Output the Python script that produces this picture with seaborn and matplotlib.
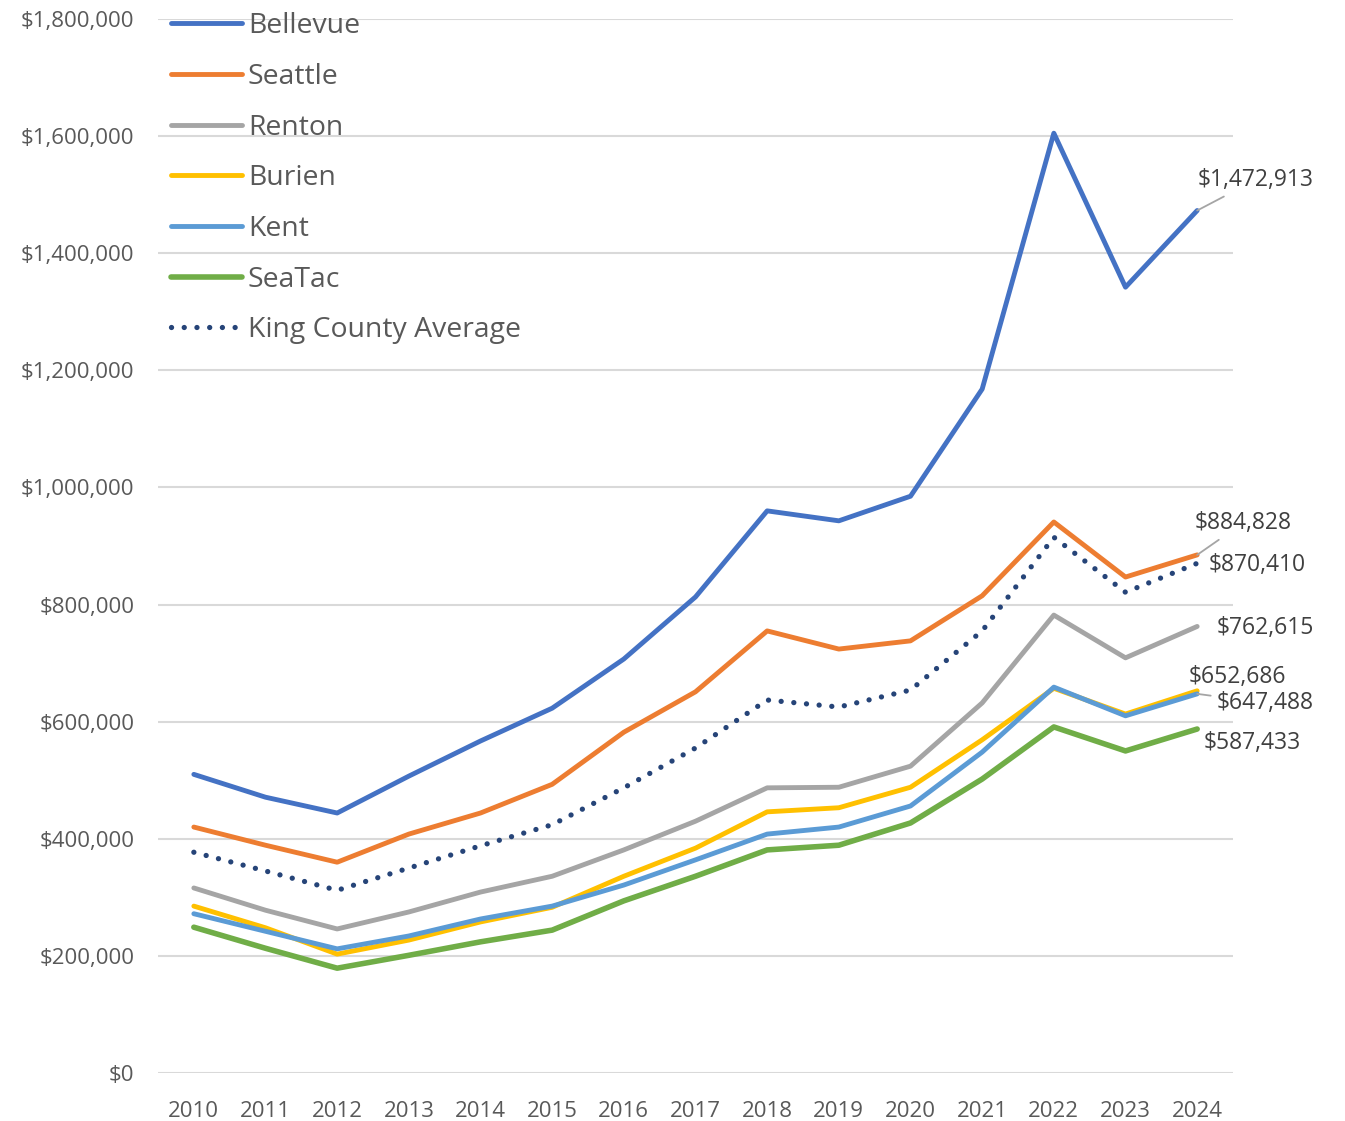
import pandas as pd
import matplotlib.pyplot as plt
import seaborn as sns
from matplotlib.ticker import FuncFormatter

# median home values by city
years = list(range(2010, 2025))
bellevue = [510000, 471000, 444000, 507000, 567000, 623000, 707000, 813000, 960000, 943000, 985000, 1168000, 1605000, 1342000, 1472913]
seattle = [420000, 389000, 360000, 408000, 444000, 493000, 582000, 651000, 755000, 724000, 738000, 815000, 941000, 847000, 884828]
renton = [316000, 278000, 246000, 275000, 309000, 336000, 381000, 430000, 487000, 488000, 524000, 632000, 782000, 709000, 762615]
burien = [285000, 248000, 203000, 227000, 258000, 283000, 336000, 384000, 446000, 453000, 488000, 569000, 657000, 613000, 652686]
kent = [272000, 242000, 212000, 234000, 263000, 285000, 321000, 364000, 408000, 420000, 456000, 548000, 659000, 610000, 647488]
seatac = [249000, 213000, 179000, 201000, 224000, 244000, 294000, 336000, 381000, 389000, 427000, 502000, 591000, 550000, 587433]
king_avg = [377000, 345000, 312000, 350000, 388000, 424000, 487000, 555000, 637000, 625000, 654000, 755000, 915000, 821000, 870410]

names = ["Bellevue", "Seattle", "Renton", "Burien", "Kent", "SeaTac", "King County Average"]
series = [bellevue, seattle, renton, burien, kent, seatac, king_avg]
colors = ["#4472C4", "#ED7D31", "#A5A5A5", "#FFC000", "#5B9BD5", "#70AD47", "#264478"]

df = pd.DataFrame({"Year": years})
for n, s in zip(names, series):
    df[n] = s

sns.set_style("white")
plt.rcParams['font.family'] = ['Open Sans', 'DejaVu Sans']

fig = plt.figure(figsize=(13.45, 11.21), dpi=100)
ax = fig.add_axes([158 / 1345, 1 - 1073 / 1121, (1233 - 158) / 1345, (1073 - 19) / 1121])

for n, c in zip(names, colors):
    if n == "King County Average":
        sns.lineplot(data=df, x="Year", y=n, ax=ax, color=c, linewidth=3.8,
                     linestyle=(0, (0.01, 2.4)), dash_capstyle="round", label=n)
    else:
        lw = 4.0 if n == "SeaTac" else 3.5
        sns.lineplot(data=df, x="Year", y=n, ax=ax, color=c, linewidth=lw,
                     solid_capstyle="round", label=n)

ax.set_xlim(2009.5, 2024.5)
ax.set_ylim(0, 1800000)
ax.set_yticks(range(0, 1800001, 200000))
ax.set_xticks(years)
ax.yaxis.set_major_formatter(FuncFormatter(lambda v, p: f"${v:,.0f}"))
ax.grid(axis="y", color="#D9D9D9", linewidth=1.5)
ax.set_axisbelow(True)
for sp in ax.spines.values():
    sp.set_visible(False)
ax.tick_params(axis="both", length=0, labelsize=16, labelcolor="#595959")
ax.tick_params(axis="x", pad=20)
ax.tick_params(axis="y", pad=17)
ax.set_xlabel("")
ax.set_ylabel("")

# end-of-line value labels (offsets in points)
offsets = {
    "Bellevue": (42, 22, True),
    "Seattle": (33, 23, True),
    "King County Average": (43, -1, False),
    "Renton": (49, -1, False),
    "Burien": (29, 10, False),
    "Kent": (49, -6.5, True),
    "SeaTac": (40, -10, False),
}
for n, s in zip(names, series):
    dx, dy, leader = offsets[n]
    props = dict(arrowstyle="-", color="#A5A5A5", lw=1.3, shrinkA=2, shrinkB=0) if leader else None
    ax.annotate(f"${s[-1]:,.0f}", xy=(years[-1], s[-1]), xytext=(dx, dy),
                textcoords="offset points", ha="center", va="center",
                fontsize=16.5, color="#404040", arrowprops=props, annotation_clip=False)

leg = ax.legend(loc="upper left", bbox_to_anchor=(0.002, 1.017), frameon=False,
                fontsize=20.4, labelcolor="#595959", handlelength=2.5,
                handletextpad=0.2, labelspacing=0.8, borderaxespad=0)

fig.savefig("out.png", dpi=100)
